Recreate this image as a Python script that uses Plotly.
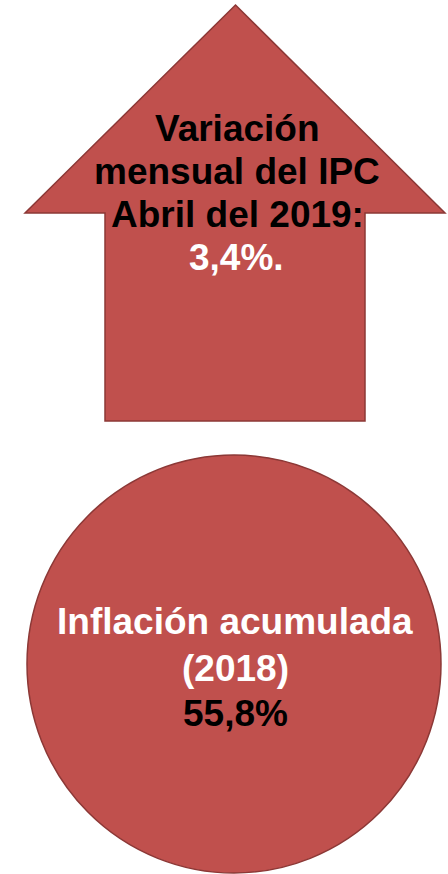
import plotly.graph_objects as go

# ---- data ----
arrow_labels = ["Variación", "mensual del IPC", "Abril del 2019:"]
monthly_cpi = 3.4          # % April 2019
circle_labels = ["Inflación acumulada", "(2018)"]
accumulated_inflation = 55.8  # % 2018

def fmt(v, suffix=""):
    return f"{v:.1f}".replace(".", ",") + "%" + suffix

# ---- layout / styles ----
W, H = 448, 874
FILL = "#C0504D"
EDGE = "#8C3836"
FONT = "Liberation Sans, Arial, sans-serif"

fig = go.Figure()

# arrow geometry
tip = (235.5, 5)
head_y = 213
head_l, head_r = 25, 445
shaft_l, shaft_r, shaft_b = 105, 365, 421
arrow_path = (f"M {tip[0]} {tip[1]} L {head_r} {head_y} L {shaft_r} {head_y} "
              f"L {shaft_r} {shaft_b} L {shaft_l} {shaft_b} L {shaft_l} {head_y} "
              f"L {head_l} {head_y} Z")
fig.add_shape(type="path", path=arrow_path, xref="x", yref="y",
              fillcolor=FILL, line=dict(color=EDGE, width=1.5), layer="below")

# circle geometry
fig.add_shape(type="circle", xref="x", yref="y", x0=27, x1=441, y0=455, y1=873,
              fillcolor=FILL, line=dict(color=EDGE, width=1.5), layer="below")

arrow_y = [128, 171, 214]
for txt, y in zip(arrow_labels, arrow_y):
    fig.add_annotation(x=237, y=y, text=f"<b>{txt}</b>", showarrow=False,
                       font=dict(family=FONT, size=37, color="black"),
                       xanchor="center", yanchor="middle")
fig.add_annotation(x=236, y=257, text=f"<b>{fmt(monthly_cpi, '.')}</b>", showarrow=False,
                   font=dict(family=FONT, size=37, color="white"),
                   xanchor="center", yanchor="middle")

circle_y = [621, 668]
for txt, y in zip(circle_labels, circle_y):
    fig.add_annotation(x=235, y=y, text=f"<b>{txt}</b>", showarrow=False,
                       font=dict(family=FONT, size=37, color="white"),
                       xanchor="center", yanchor="middle")
fig.add_annotation(x=235, y=713, text=f"<b>{fmt(accumulated_inflation)}</b>", showarrow=False,
                   font=dict(family=FONT, size=37, color="black"),
                   xanchor="center", yanchor="middle")

fig.update_xaxes(range=[0, W], visible=False, fixedrange=True)
fig.update_yaxes(range=[H, 0], visible=False, fixedrange=True)
fig.update_layout(width=W, height=H, margin=dict(l=0, r=0, t=0, b=0),
                  paper_bgcolor="white", plot_bgcolor="white", showlegend=False)

fig.write_html("out.html")
